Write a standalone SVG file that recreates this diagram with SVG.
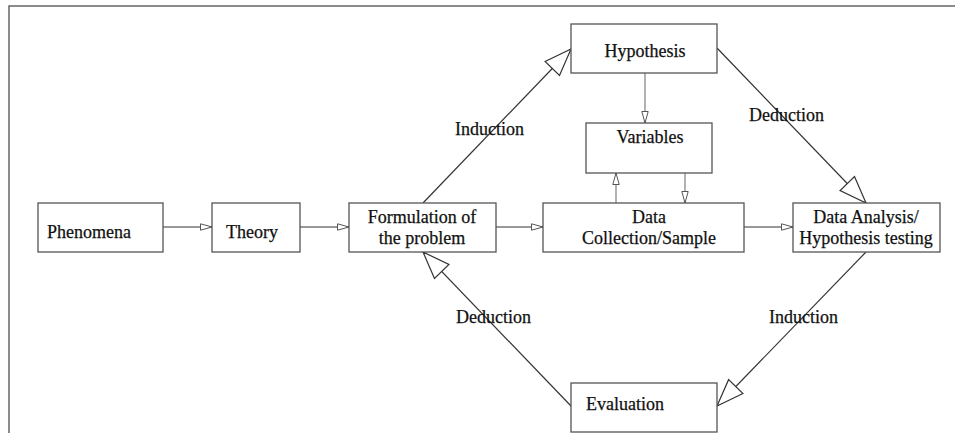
<svg xmlns="http://www.w3.org/2000/svg" width="955" height="433" viewBox="0 0 955 433">
<style>
.box{fill:#fff;stroke:#555;stroke-width:1.3}
.t{font-family:"Liberation Serif","Times New Roman",serif;font-size:18px;fill:#111;stroke:#111;stroke-width:0.25}
.c{text-anchor:middle}
.ln{stroke:#333;stroke-width:1.2;fill:none}
.lg{stroke:#888;stroke-width:1.3;fill:none}
.frame{stroke:#666;stroke-width:1.5;fill:none}
</style>
<defs>
<marker id="sm" markerUnits="userSpaceOnUse" markerWidth="14" markerHeight="10" refX="12" refY="4" orient="auto" viewBox="0 0 14 8">
<path d="M0.5,0.8 L12,4 L0.5,7.2 Z" fill="#fff" stroke="#555" stroke-width="1"/>
</marker>
<marker id="lg" markerUnits="userSpaceOnUse" markerWidth="30" markerHeight="24" refX="28" refY="12" orient="auto" viewBox="0 0 30 24">
<path d="M1,2 L28,12 L1,22 Z" fill="#fff" stroke="#333" stroke-width="1.2"/>
</marker>
</defs>
<path class="frame" d="M9,433 L9,6 L955,6"/>
<g id="connectors">
<line class="ln" x1="163" y1="227" x2="212" y2="227" marker-end="url(#sm)"/>
<line class="ln" x1="300" y1="227" x2="349" y2="227" marker-end="url(#sm)"/>
<line class="ln" x1="496" y1="227" x2="543" y2="227" marker-end="url(#sm)"/>
<line class="ln" x1="744" y1="227" x2="793" y2="227" marker-end="url(#sm)"/>
<line class="lg" x1="645" y1="73" x2="645" y2="123" marker-end="url(#sm)"/>
<line class="lg" x1="616" y1="203" x2="616" y2="173" marker-end="url(#sm)"/>
<line class="lg" x1="685" y1="173" x2="685" y2="203" marker-end="url(#sm)"/>
<line class="ln" x1="423" y1="203" x2="571" y2="49" marker-end="url(#lg)"/>
<line class="ln" x1="717" y1="48" x2="866" y2="203" marker-end="url(#lg)"/>
<line class="ln" x1="866" y1="252" x2="717" y2="406" marker-end="url(#lg)"/>
<line class="ln" x1="571" y1="406" x2="423" y2="252" marker-end="url(#lg)"/>
<text class="t" x="455" y="135">Induction</text>
<text class="t" x="749" y="121">Deduction</text>
<text class="t" x="456" y="323">Deduction</text>
<text class="t" x="769" y="323">Induction</text>
</g>
<g id="phenomena">
<rect class="box" x="38" y="203" width="125" height="49"/>
<text class="t" x="47" y="238">Phenomena</text>
</g>
<g id="theory">
<rect class="box" x="212" y="203" width="88" height="49"/>
<text class="t" x="226" y="238">Theory</text>
</g>
<g id="formulation">
<rect class="box" x="349" y="203" width="147" height="49"/>
<text class="t c" x="422" y="223">Formulation of</text>
<text class="t c" x="422" y="244">the problem</text>
</g>
<g id="datacollection">
<rect class="box" x="543" y="203" width="201" height="49"/>
<text class="t c" x="649" y="223">Data</text>
<text class="t c" x="649" y="244">Collection/Sample</text>
</g>
<g id="dataanalysis">
<rect class="box" x="793" y="203" width="147" height="49"/>
<text class="t c" x="866" y="223">Data Analysis/</text>
<text class="t c" x="866" y="244">Hypothesis testing</text>
</g>
<g id="hypothesis">
<rect class="box" x="571" y="24" width="146" height="49"/>
<text class="t c" x="645" y="57">Hypothesis</text>
</g>
<g id="variables">
<rect class="box" x="586" y="123" width="126" height="50"/>
<text class="t c" x="650" y="143">Variables</text>
</g>
<g id="evaluation">
<rect class="box" x="571" y="383" width="146" height="49"/>
<text class="t" x="586" y="410">Evaluation</text>
</g>
</svg>
